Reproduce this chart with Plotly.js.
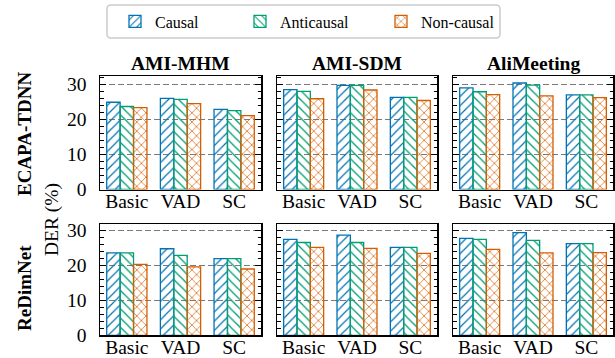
<!DOCTYPE html>
<html>
<head>
<meta charset="utf-8">
<script src="https://cdn.plot.ly/plotly-3.0.1.min.js"></script>
<style>html,body{margin:0;padding:0;background:#fff;}#chart{width:615px;height:358px;}</style>
</head>
<body>
<div id="chart"></div>
<script>
const categories = ['Basic', 'VAD', 'SC'];
const seriesNames = ['Causal', 'Anticausal', 'Non-causal'];
const datasets = ['AMI-MHM', 'AMI-SDM', 'AliMeeting'];
const models = ['ECAPA-TDNN', 'ReDimNet'];
const yTicks = [0, 10, 20, 30];

// ECAPA-TDNN
const ecapaMhmCausal = [24.9, 26.0, 22.9];
const ecapaMhmAnti   = [23.7, 25.7, 22.5];
const ecapaMhmNon    = [23.4, 24.5, 21.1];
const ecapaSdmCausal = [28.5, 29.7, 26.3];
const ecapaSdmAnti   = [28.0, 29.7, 26.3];
const ecapaSdmNon    = [25.9, 28.4, 25.4];
const ecapaAliCausal = [29.0, 30.4, 27.0];
const ecapaAliAnti   = [27.9, 29.8, 27.0];
const ecapaAliNon    = [27.1, 26.7, 26.2];
// ReDimNet
const redimMhmCausal = [23.6, 24.8, 22.0];
const redimMhmAnti   = [23.6, 22.9, 22.0];
const redimMhmNon    = [20.3, 19.6, 19.0];
const redimSdmCausal = [27.5, 28.7, 25.2];
const redimSdmAnti   = [26.6, 26.6, 25.2];
const redimSdmNon    = [25.2, 24.9, 23.5];
const redimAliCausal = [27.8, 29.4, 26.3];
const redimAliAnti   = [27.5, 27.2, 26.3];
const redimAliNon    = [24.6, 23.6, 23.7];

const panels = [
  [ecapaMhmCausal, ecapaMhmAnti, ecapaMhmNon],
  [ecapaSdmCausal, ecapaSdmAnti, ecapaSdmNon],
  [ecapaAliCausal, ecapaAliAnti, ecapaAliNon],
  [redimMhmCausal, redimMhmAnti, redimMhmNon],
  [redimSdmCausal, redimSdmAnti, redimSdmNon],
  [redimAliCausal, redimAliAnti, redimAliNon]
];

const W = 615, H = 358;
const colors = ['#0173b2', '#029e73', '#d55e00'];
const shapes = ['/', '\\', 'x'];
const FONT = 'Liberation Serif, Times New Roman, serif';

const colPx = [[100, 261], [277, 437], [453, 613]];
const rowPx = [[76, 189.5], [224, 335.3]];
const yMax = [32.4, 31.9];
const px2x = v => v / W;
const px2y = v => 1 - v / H;

const traces = [];
const layout = {
  width: W, height: H,
  margin: {l: 0, r: 0, t: 0, b: 0},
  paper_bgcolor: '#fff', plot_bgcolor: '#fff',
  font: {family: FONT, size: 19, color: '#000'},
  barmode: 'group', bargap: 0.25, bargroupgap: 0,
  showlegend: true,
  annotations: [], shapes: []
};

panels.forEach((vals, i) => {
  const row = i < 3 ? 0 : 1, col = i % 3;
  const sfx = i === 0 ? '' : String(i + 1);
  vals.forEach((v, s) => {
    traces.push({
      type: 'bar', x: categories, y: v, name: seriesNames[s],
      xaxis: 'x' + sfx, yaxis: 'y' + sfx,
      showlegend: i === 0,
      legend: s === 0 ? 'legend' : 'legend' + (s + 1),
      marker: {
        color: colors[s],
        line: {color: colors[s], width: 1.3},
        pattern: {shape: shapes[s], fgcolor: colors[s], bgcolor: 'rgba(255,255,255,0)', size: 6.5, solidity: 0.2, fillmode: 'replace'}
      },
      hoverinfo: 'skip'
    });
  });
  layout['xaxis' + sfx] = {
    domain: [px2x(colPx[col][0]), px2x(colPx[col][1])],
    anchor: 'y' + sfx,
    type: 'category', range: [-0.5, 2.5],
    showline: true, linecolor: '#000', linewidth: 1.5, mirror: true,
    ticks: '', showgrid: false, zeroline: false,
    tickfont: {family: FONT, size: 19.5},
    ticklabelstandoff: -6,
    fixedrange: true
  };
  layout['yaxis' + sfx] = {
    domain: [px2y(rowPx[row][1]), px2y(rowPx[row][0])],
    anchor: 'x' + sfx,
    range: [0, yMax[row]],
    tickvals: yTicks, ticktext: yTicks.map(String),
    showticklabels: col === 0,
    ticks: 'inside', ticklen: 6, tickwidth: 1.3, tickcolor: '#000',
    minor: {dtick: 2, tick0: 0, ticks: 'inside', ticklen: 3.5, tickwidth: 1, tickcolor: '#000', showgrid: false},
    showline: true, linecolor: '#000', linewidth: 1.5, mirror: 'ticks',
    showgrid: true, gridcolor: '#7a7a7a', gridwidth: 1.2, griddash: '6px,3px',
    zeroline: false,
    tickfont: {family: FONT, size: 19.5},
    ticklabelstandoff: 8,
    fixedrange: true
  };
});

// column titles
datasets.forEach((d, c) => {
  layout.annotations.push({
    text: '<b>' + d + '</b>', xref: 'paper', yref: 'paper',
    x: px2x((colPx[c][0] + colPx[c][1]) / 2), y: px2y(63),
    xanchor: 'center', yanchor: 'middle', showarrow: false,
    font: {family: FONT, size: 19.5, color: '#000'}
  });
});
// row labels
const rowLabelY = [134, 288];
models.forEach((m, r) => {
  layout.annotations.push({
    text: '<b>' + m + '</b>', xref: 'paper', yref: 'paper',
    x: px2x(24), y: px2y(rowLabelY[r]), xanchor: 'center', yanchor: 'middle',
    textangle: -90, showarrow: false,
    font: {family: FONT, size: 19, color: '#000'}
  });
});
layout.annotations.push({
  text: 'DER (%)', xref: 'paper', yref: 'paper',
  x: px2x(52), y: px2y(220), xanchor: 'center', yanchor: 'middle',
  textangle: -90, showarrow: false,
  font: {family: FONT, size: 19.5, color: '#000'}
});

// legend frame (rounded)
(function () {
  const x0 = 107, x1 = 500, y0 = 5, y1 = 38, r = 4;
  const X = v => px2x(v), Y = v => px2y(v);
  const p = 'M' + X(x0 + r) + ',' + Y(y0) +
    ' L' + X(x1 - r) + ',' + Y(y0) + ' Q' + X(x1) + ',' + Y(y0) + ' ' + X(x1) + ',' + Y(y0 + r) +
    ' L' + X(x1) + ',' + Y(y1 - r) + ' Q' + X(x1) + ',' + Y(y1) + ' ' + X(x1 - r) + ',' + Y(y1) +
    ' L' + X(x0 + r) + ',' + Y(y1) + ' Q' + X(x0) + ',' + Y(y1) + ' ' + X(x0) + ',' + Y(y1 - r) +
    ' L' + X(x0) + ',' + Y(y0 + r) + ' Q' + X(x0) + ',' + Y(y0) + ' ' + X(x0 + r) + ',' + Y(y0) + ' Z';
  layout.shapes.push({type: 'path', path: p, xref: 'paper', yref: 'paper',
    line: {color: '#cccccc', width: 1.5}, fillcolor: 'rgba(255,255,255,0.9)', layer: 'below'});
})();

const legendX = [115, 240, 381];
['legend', 'legend2', 'legend3'].forEach((lg, k) => {
  layout[lg] = {
    x: px2x(legendX[k]), y: px2y(21.5), xanchor: 'left', yanchor: 'middle',
    xref: 'paper', yref: 'paper',
    orientation: 'h', bgcolor: 'rgba(0,0,0,0)', borderwidth: 0,
    font: {family: FONT, size: 16, color: '#000'}
  };
});

Plotly.newPlot('chart', traces, layout, {staticPlot: true, displayModeBar: false});
</script>
</body>
</html>
